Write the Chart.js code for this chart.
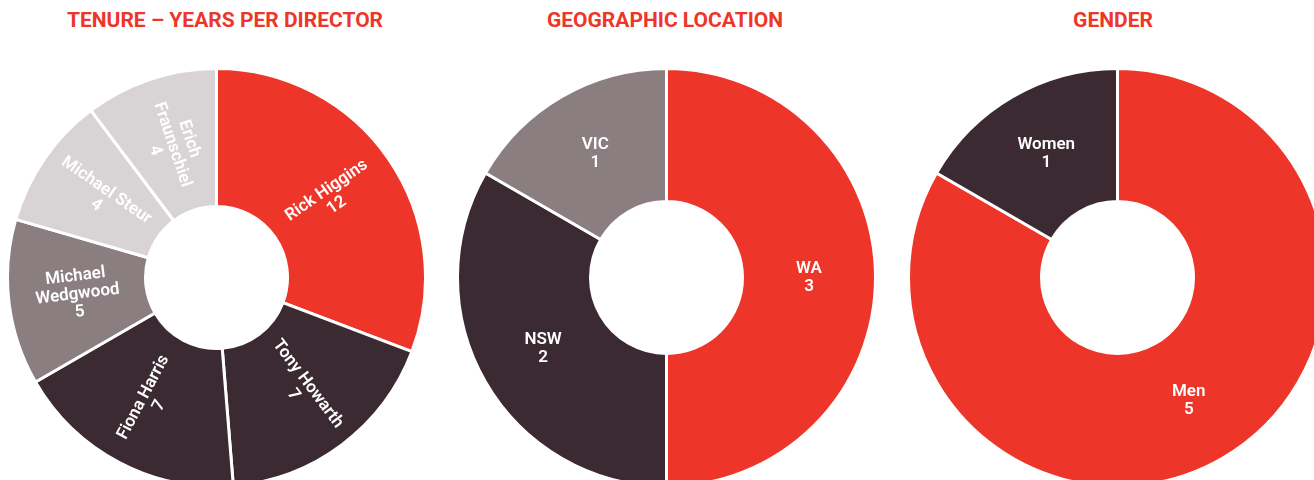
<!DOCTYPE html>
<html><head><meta charset="utf-8">
<script src="https://cdn.jsdelivr.net/npm/chart.js@4"></script>
<style>
html,body{margin:0;padding:0;background:#fff;width:1314px;height:480px;overflow:hidden;position:relative;font-family:Roboto,sans-serif}
.t{position:absolute;top:8px;margin:0;font:bold 21px Roboto,sans-serif;color:#ed3629;transform:translateX(-50%);white-space:nowrap}
canvas{position:absolute}
</style></head>
<body>
<h2 class="t" style="left:225px">TENURE – YEARS PER DIRECTOR</h2>
<h2 class="t" style="left:665px">GEOGRAPHIC LOCATION</h2>
<h2 class="t" style="left:1113px">GENDER</h2>
<canvas id="c1" width="421" height="421" style="left:6px;top:67px"></canvas>
<canvas id="c2" width="421" height="421" style="left:456px;top:67px"></canvas>
<canvas id="c3" width="421" height="421" style="left:907px;top:67px"></canvas>
<script>
// === данные ===
const tenureNames=[['Rick Higgins'],['Tony Howarth'],['Fiona Harris'],['Michael','Wedgwood'],['Michael Steur'],['Erich','Fraunschiel']];
const tenureYears=[12,7,7,5,4,4];
const geoNames=[['WA'],['NSW'],['VIC']];
const geoCount=[3,2,1];
const genderNames=[['Men'],['Women']];
const genderCount=[5,1];

const RED='#ed3629',DARK='#3b2a31',MID='#8a7e81',LIGHT='#d8d4d5';
const tenureColors=[RED,DARK,DARK,MID,LIGHT,LIGHT];
const geoColors=[RED,DARK,MID];
const genderColors=[RED,DARK];

// === подписи на сегментах ===
const sliceLabels={
  id:'sliceLabels',
  afterDatasetsDraw(chart,args,opts){
    const ctx=chart.ctx;
    const meta=chart.getDatasetMeta(0);
    const ds=chart.data.datasets[0];
    ctx.save();
    ctx.fillStyle='#fff';
    ctx.font='600 17px Roboto, sans-serif';
    ctx.textAlign='center';ctx.textBaseline='middle';
    meta.data.forEach((arc,i)=>{
      const p=arc.tooltipPosition();
      const lines=chart.data.labels[i].concat(String(ds.data[i]));
      ctx.save();
      ctx.translate(p.x,p.y);
      if(opts.rotate){
        // текст вдоль радиуса, без переворота вверх ногами
        let a=(arc.startAngle+arc.endAngle)/2;
        while(a>Math.PI)a-=2*Math.PI;
        while(a<=-Math.PI)a+=2*Math.PI;
        if(a>Math.PI/2)a-=Math.PI;
        if(a<-Math.PI/2)a+=Math.PI;
        ctx.rotate(a);
      }
      const lh=18,y0=-(lines.length-1)*lh/2;
      lines.forEach((l,k)=>ctx.fillText(l,0,y0+k*lh));
      ctx.restore();
    });
    ctx.restore();
  }
};

function donut(id,labels,data,colors,cut,rotate){
  new Chart(document.getElementById(id),{
    type:'doughnut',
    data:{labels:labels,datasets:[{data:data,backgroundColor:colors,borderColor:'#fff',borderWidth:3,hoverOffset:0}]},
    options:{
      responsive:false,animation:false,cutout:cut,
      layout:{padding:0},
      plugins:{legend:{display:false},tooltip:{enabled:false},sliceLabels:{rotate:rotate}}
    },
    plugins:[sliceLabels]
  });
}
donut('c1',tenureNames,tenureYears,tenureColors,71,true);
donut('c2',geoNames,geoCount,geoColors,76,false);
donut('c3',genderNames,genderCount,genderColors,76,false);
</script>
</body></html>
